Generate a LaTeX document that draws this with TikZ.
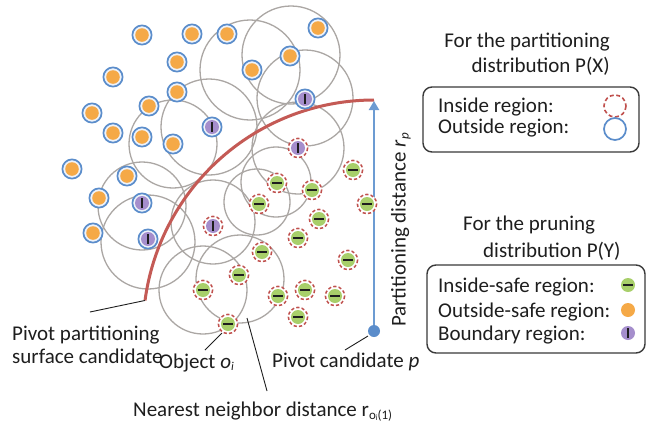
\documentclass[tikz,border=0pt]{standalone}
\usepackage{fontspec}
\setmainfont{Carlito}
\usetikzlibrary{arrows.meta}
\definecolor{dotorange}{HTML}{F5A947}
\definecolor{ringblue}{HTML}{5B8DCB}
\definecolor{ringfill}{HTML}{EEF3FA}
\definecolor{dotgreen}{HTML}{A8CF6A}
\definecolor{dotpurple}{HTML}{A58ECC}
\definecolor{ringred}{HTML}{C0504D}
\definecolor{gcircle}{HTML}{ABA7A4}
\definecolor{arcred}{HTML}{C45A55}
\definecolor{arrowblue}{HTML}{6C9BD2}
\definecolor{txt}{HTML}{1E1E1E}
\definecolor{boxline}{HTML}{3A3A3A}
\tikzset{
  lbl/.style={inner sep=0pt, text=txt, font=\fontsize{21}{25}\selectfont},
  gcirc/.style={draw=gcircle, line width=1.3pt},
  pointer/.style={draw=txt, line width=0.9pt},
  legbox/.style={draw=boxline, line width=1.4pt, rounded corners=9pt},
  barline/.style={draw=txt, line width=1.8pt},
  redring/.style={draw=ringred, line width=1.5pt, dash pattern=on 3.2pt off 2.2pt},
  pics/outdot/.style={code={
    \fill[ringfill] (0,0) circle[radius=10];
    \draw[ringblue, line width=1.7pt] (0,0) circle[radius=9.6];
    \fill[dotorange] (0,0) circle[radius=6.8];}},
  pics/indot/.style={code={
    \fill[white] (0,0) circle[radius=10];
    \draw[redring] (0,0) circle[radius=9.6];
    \fill[dotgreen] (0,0) circle[radius=7];
    \draw[barline] (-5,0) -- (5,0);}},
  pics/bnddotb/.style={code={
    \fill[ringfill] (0,0) circle[radius=10];
    \draw[ringblue, line width=1.7pt] (0,0) circle[radius=9.6];
    \fill[dotpurple] (0,0) circle[radius=7];
    \draw[barline] (0,-5) -- (0,5);}},
  pics/bnddotr/.style={code={
    \fill[white] (0,0) circle[radius=10];
    \draw[redring] (0,0) circle[radius=9.6];
    \fill[dotpurple] (0,0) circle[radius=7];
    \draw[barline] (0,-5) -- (0,5);}},
}
\begin{document}
\begin{tikzpicture}[x=1pt,y=-1pt]
\useasboundingbox (0,0) rectangle (649,421);
\fill[white] (0,0) rectangle (649,421);

% nearest-neighbour circles
\foreach \cx/\cy/\r in {250/70/50, 291/55/49, 305/98/48, 209/127/48,
  173/144/44, 142/206/44, 148/242/47, 298/148/46, 257/202/33, 276/182/35,
  203/290/44, 240/279/44, 213/222/42}
  \draw[gcirc] (\cx,\cy) circle[radius=\r];

% partitioning surface
\coordinate (p) at (374,331);
\coordinate (arcend) at ({374+231*cos(187.6)},{331+231*sin(187.6)});
\draw[arcred, line width=3pt] plot[domain=187.6:270, samples=80]
  ({374+231*cos(\x)},{331+231*sin(\x)});

% partitioning distance arrow
\coordinate (ptop) at (374,101);
\draw[arrowblue, line width=2.6pt, -{Triangle[length=9pt,width=10pt]}] (p) -- (ptop);
\fill[ringblue] (p) circle[radius=6];

% outside-safe objects
\foreach \cx/\cy in {142/35, 192/34, 227/34, 318/28, 177/62, 290/56, 252/70,
  113/77, 177/92, 149/106, 92/113, 113/133, 142/137, 173/144, 72/169,
  127/176, 99/198, 93/233}
  \pic at (\cx,\cy) {outdot};

% boundary objects
\foreach \cx/\cy in {212/127, 305/99, 142/203, 148/239}
  \pic at (\cx,\cy) {bnddotb};
\foreach \cx/\cy in {298/148, 213/226}
  \pic at (\cx,\cy) {bnddotr};

% inside-safe objects
\foreach \cx/\cy in {353/170, 277/183, 312/190, 367/204, 259/204, 319/219,
  298/238, 262/252, 348/260, 239/275, 203/290, 278/296, 305/290, 335/296,
  298/317, 228/324}
  \pic at (\cx,\cy) {indot};

% labels
\node[lbl, anchor=base west] (ppl) at (12,340) {Pivot partitioning};
\node[lbl, anchor=base west] (scl) at (12,363) {surface candidate};
\node[lbl, anchor=base west] (obj) at (159,368) {Object \textit{o}{\fontsize{12}{12}\selectfont\raisebox{-2.5pt}{\textit{i}}}};
\node[lbl, anchor=base west] (pcl) at (272,367) {Pivot candidate \textit{p}};
\node[lbl, anchor=base west] (nnl) at (133,416) {Nearest neighbor distance r{\fontsize{13}{13}\selectfont\raisebox{-3pt}{o{\fontsize{8}{8}\selectfont\raisebox{-1pt}{i}}(1)}}};
\node[lbl, rotate=90] (pdl) at (401,230) {Partitioning distance \textit{r}{\fontsize{13}{13}\selectfont\raisebox{-3pt}{\textit{p}}}};

% pointers
\coordinate (objpt) at (222,333);
\coordinate (nnpt) at (247,318);
\coordinate (pcpt) at (368,336);
\draw[pointer] (arcend) -- (90,312);
\draw[pointer] (objpt) -- (205,350);
\draw[pointer] (nnpt) -- (267,391);
\draw[pointer] (pcpt) -- (345,350);

% legend: partitioning distribution
\node[lbl, anchor=base east] (h1a) at (610,47) {For the partitioning};
\node[lbl, anchor=base east] (h1b) at (610,72) {distribution P(X)};
\draw[legbox] (423,87) rectangle (639,152);
\node[lbl, anchor=base west] (l1a) at (438,112) {Inside region:};
\node[lbl, anchor=base west] (l1b) at (438,133) {Outside region:};
\draw[redring, line width=1.6pt, dash pattern=on 4pt off 2.6pt] (615,106) circle[radius=11];
\draw[ringblue, line width=1.7pt] (615,129) circle[radius=11];

% legend: pruning distribution
\node[lbl, anchor=base west] (h2a) at (463,230) {For the pruning};
\node[lbl, anchor=base west] (h2b) at (483,257) {distribution P(Y)};
\draw[legbox] (427,265) rectangle (645,353);
\node[lbl, anchor=base west] (l2a) at (438,292) {Inside-safe region:};
\node[lbl, anchor=base west] (l2b) at (438,317) {Outside-safe region:};
\node[lbl, anchor=base west] (l2c) at (438,340) {Boundary region:};
\fill[dotgreen] (628,285) circle[radius=7];
\draw[barline] (623,285) -- (633,285);
\fill[dotorange] (628,310) circle[radius=7];
\fill[dotpurple] (628,333) circle[radius=7];
\draw[barline] (628,328) -- (628,338);
\end{tikzpicture}
\end{document}
